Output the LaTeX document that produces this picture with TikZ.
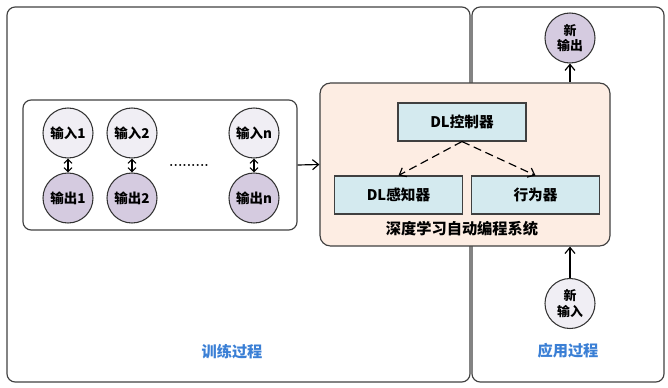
\documentclass[tikz,border=0pt]{standalone}
\usepackage{fontspec}
\newfontfamily\cjk{Noto Sans CJK SC}
\usetikzlibrary{arrows.meta, positioning, calc}
\definecolor{inFill}{RGB}{240,238,244}
\definecolor{outFill}{RGB}{213,203,224}
\definecolor{sysFill}{RGB}{253,237,227}
\definecolor{unitFill}{RGB}{212,234,239}
\definecolor{stageBlue}{RGB}{58,127,213}
\tikzset{
	dot/.style={circle, draw=black!80, line width=0.9pt, minimum size=1.5cm, inner sep=0pt, align=center, font=\cjk\bfseries\fontsize{11.5}{12}\selectfont},
	indot/.style={dot, fill=inFill},
	outdot/.style={dot, fill=outFill},
	unit/.style={draw=black!75, line width=0.9pt, fill=unitFill, minimum width=3.84cm, minimum height=1.14cm, font=\cjk\bfseries\fontsize{12.5}{14}\selectfont},
	panel/.style={draw=black!75, line width=1pt, rounded corners=7pt},
	stage/.style={text=stageBlue, font=\cjk\bfseries\fontsize{13}{15}\selectfont},
	link/.style={-{Straight Barb[length=1.8mm, width=3mm]}, line width=1pt},
	pair/.style={{Straight Barb[length=1.2mm, width=2.4mm]}-{Straight Barb[length=1.2mm, width=2.4mm]}, line width=0.9pt}
}

\begin{document}
\begin{tikzpicture}[x=0.03cm, y=-0.03cm]
		\useasboundingbox (0,0) rectangle (668,387);
		% Two stages
		\draw[panel] (7,7) rectangle (470,382);
		\draw[panel] (472,7) rectangle (664,382);
		\node[stage] (trainlabel) at (232,352) {训练过程};
		\node[stage] (applylabel) at (568,351) {应用过程};
		% Training samples
		\node[panel, minimum width=8.22cm, minimum height=3.9cm] (samples) at (160,165) {};
		\node[indot] (in1) at (68,133) {输入1};
		\node[outdot] (out1) at (68,198) {输出1};
		\node[indot] (in2) at (132,133) {输入2};
		\node[outdot] (out2) at (132,198) {输出2};
		\node[indot] (inn) at (254,133) {输入n};
		\node[outdot] (outn) at (254,198) {输出n};
		\node[font=\bfseries\large] (gap) at (189,165) {.........};
		\foreach \k in {1,2,n} {
			\draw[pair] (in\k) -- (out\k);
		}
		% Programming system
		\node[draw=black!75, line width=1pt, fill=sysFill, rounded corners=9pt, minimum width=8.7cm, minimum height=4.89cm] (system) at (465,164.5) {};
		\node[unit] (ctrl) at (462,122) {DL控制器};
		\node[unit] (sense) at (398.5,195) {DL感知器};
		\node[unit] (act) at (535.5,195) {行为器};
		\node[font=\cjk\bfseries\fontsize{13}{15}\selectfont] (syslabel) at (462,229) {深度学习自动编程系统};
		\draw[link, dash pattern=on 7pt off 4pt] (ctrl.south) -- (sense.north);
		\draw[link, dash pattern=on 7pt off 4pt] (ctrl.south) -- (act.north);
		\draw[link] (samples.east) -- (system.west);
		% New data
		\node[outdot, font=\cjk\bfseries\fontsize{11}{13}\selectfont] (newout) at (570,38) {新\\输出};
		\node[indot, font=\cjk\bfseries\fontsize{11}{13}\selectfont] (newin) at (570,303.5) {新\\输入};
		\draw[link] (newout |- system.north) -- (newout.south);
		\draw[link] (newin.north) -- (newin |- system.south);
	\end{tikzpicture}
\end{document}
